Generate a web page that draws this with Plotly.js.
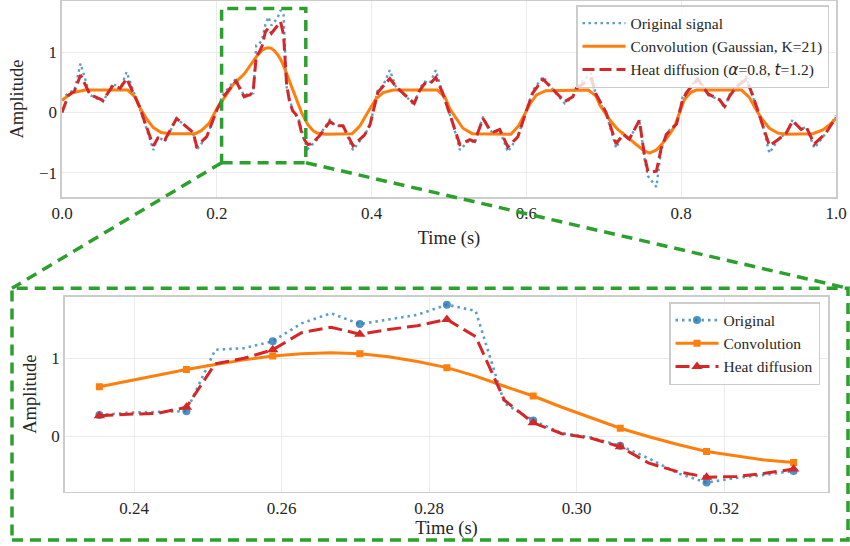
<!DOCTYPE html>
<html><head><meta charset="utf-8">
<script src="https://cdn.plot.ly/plotly-3.0.1.min.js"></script>
<style>html,body{margin:0;padding:0;background:#fff}#chart{width:850px;height:546px}</style>
</head><body><div id="chart"></div>
<script>
// ---- data: top panel, segment before zoom window ----
const t_a   = [0.000,0.008,0.016,0.024,0.036,0.053,0.066,0.075,0.0835,0.1007,0.107,0.118,0.124,0.133,0.148,0.163,0.1695,0.174,0.187,0.200,0.208,0.2247];
const sig_a = [0.20,0.33,0.36,0.81,0.29,0.18,0.48,0.38,0.67,0.07,-0.18,-0.62,-0.40,-0.48,-0.10,-0.26,-0.34,-0.62,-0.40,0.04,0.29,0.56];
const heat_a= [0.00,0.28,0.35,0.62,0.30,0.20,0.45,0.40,0.56,0.08,-0.16,-0.55,-0.42,-0.45,-0.10,-0.25,-0.33,-0.56,-0.40,0.04,0.25,0.52];
// ---- zoom window (samples 60..84 of 256) ----
const t_zoom   = [0.2353,0.2392,0.2431,0.2471,0.2510,0.2549,0.2588,0.2627,0.2667,0.2706,0.2745,0.2784,0.2824,0.2863,0.2902,0.2941,0.2980,0.3020,0.3059,0.3098,0.3137,0.3176,0.3216,0.3255,0.3294];
const sig_zoom = [0.27,0.30,0.31,0.32,1.11,1.13,1.22,1.45,1.58,1.44,1.50,1.56,1.69,1.61,0.42,0.20,0.035,-0.02,-0.125,-0.29,-0.48,-0.60,-0.54,-0.50,-0.45];
const conv_zoom= [0.635,0.71,0.78,0.855,0.92,0.98,1.03,1.06,1.07,1.06,1.02,0.96,0.88,0.77,0.64,0.515,0.37,0.23,0.10,-0.01,-0.11,-0.20,-0.26,-0.31,-0.34];
const heat_zoom= [0.26,0.28,0.29,0.37,0.93,1.00,1.11,1.33,1.40,1.31,1.37,1.42,1.50,1.28,0.46,0.17,0.03,-0.03,-0.14,-0.35,-0.46,-0.53,-0.52,-0.48,-0.425];
// ---- top panel, segment after zoom window ----
const t_b   = [0.333,0.346,0.354,0.363,0.372,0.376,0.391,0.398,0.408,0.415,
               0.4235,0.432,0.4407,0.455,0.462,0.4687,0.475,0.483,0.492,0.505,
               0.514,0.527,0.533,0.544,0.552,0.558,0.5655,0.576,0.589,0.600,
               0.6085,0.6215,0.6365,0.6495,0.660,0.6645,0.684,0.690,0.703,0.716,
               0.725,0.733,0.746,0.753,0.757,0.763,0.768,0.774,0.781,0.794,
               0.802,0.8087,0.8215,0.8345,0.8496,0.856,0.8625,0.871,0.884,0.8926,
               0.9055,0.914,0.925,0.9357,0.944,0.955,0.9615,0.972,0.987,1.000];
const sig_b = [-0.37,-0.12,-0.23,-0.21,-0.48,-0.62,-0.37,-0.21,0.37,0.45,
               0.70,0.40,0.32,0.12,0.40,0.51,0.48,0.70,0.30,-0.18,
               -0.62,-0.45,-0.51,-0.07,-0.29,-0.34,-0.29,-0.65,-0.40,0.04,
               0.37,0.59,0.34,0.15,0.26,0.43,0.65,0.26,-0.01,-0.59,
               -0.34,-0.45,-0.12,-0.79,-1.05,-1.15,-1.23,-0.62,-0.34,-0.18,
               0.26,0.37,0.59,0.29,0.21,0.07,0.29,0.43,0.59,0.26,
               -0.23,-0.67,-0.45,-0.34,-0.12,-0.29,-0.23,-0.59,-0.34,-0.05];
const heat_b= [-0.38,-0.15,-0.22,-0.22,-0.45,-0.55,-0.37,-0.20,0.33,0.44,
               0.56,0.42,0.32,0.15,0.36,0.48,0.47,0.58,0.32,-0.16,
               -0.53,-0.45,-0.48,-0.10,-0.27,-0.32,-0.28,-0.57,-0.40,0.03,
               0.33,0.55,0.36,0.18,0.26,0.40,0.56,0.30,0.00,-0.52,
               -0.36,-0.44,-0.13,-0.75,-0.97,-0.98,-0.97,-0.60,-0.36,-0.19,
               0.22,0.36,0.55,0.31,0.21,0.10,0.27,0.42,0.55,0.28,
               -0.22,-0.55,-0.45,-0.34,-0.14,-0.28,-0.24,-0.52,-0.34,-0.08];
// ---- convolution (smooth) outside zoom window ----
const t_conv_a = [0.000,0.012,0.030,0.085,0.095,0.1007,0.110,0.118,0.128,0.140,0.172,0.180,0.190,0.200,0.210,0.221];
const conv_a   = [0.20,0.32,0.37,0.37,0.25,0.08,-0.12,-0.25,-0.33,-0.35,-0.35,-0.30,-0.18,0.06,0.25,0.46];
const t_conv_b = [0.340,0.375,0.385,0.393,0.400,0.406,0.415,0.428,0.485,0.495,0.501,0.510,0.518,0.530,0.580,0.590,0.598,0.605,0.613,0.625,
                  0.680,0.690,0.695,0.7075,0.718,0.729,0.740,0.7505,0.759,0.768,0.776,0.784,0.7915,0.798,0.804,0.812,0.8195,
                  0.878,0.888,0.897,0.905,0.914,0.925,0.935,0.970,0.983,0.992,1.000];
const conv_b   = [-0.36,-0.35,-0.22,-0.04,0.10,0.23,0.33,0.37,0.37,0.25,0.06,-0.12,-0.26,-0.35,-0.36,-0.22,-0.01,0.15,0.29,0.36,
                  0.37,0.27,0.12,-0.12,-0.28,-0.40,-0.52,-0.62,-0.67,-0.62,-0.51,-0.38,-0.23,0.00,0.21,0.33,0.37,
                  0.37,0.25,0.04,-0.12,-0.26,-0.34,-0.36,-0.35,-0.29,-0.20,-0.10];
const xTicksTop = [0,0.2,0.4,0.6,0.8,1.0];
const xTicksZoom = [0.24,0.26,0.28,0.30,0.32];

const t_top = [...t_a, ...t_zoom, ...t_b];
const sig_top = [...sig_a, ...sig_zoom, ...sig_b];
const heat_top = [...heat_a, ...heat_zoom, ...heat_b];
const t_conv = [...t_conv_a, ...t_zoom, ...t_conv_b];
const conv_top = [...conv_a, ...conv_zoom, ...conv_b];

const FONT = 'Liberation Serif, Times New Roman, serif';
const BLUE = 'rgba(31,119,180,0.72)', ORANGE = '#ff7f0e', RED = '#d62728', GREEN = '#2ca02c';
// markers on every third sample of the zoom window
const mc = (c) => t_zoom.map((_, i) => i % 3 === 0 ? c : 'rgba(0,0,0,0)');

const traces = [
  {x: t_top, y: sig_top, mode: 'lines', name: 'Original signal', line: {color: BLUE, width: 2.4, dash: '2.5px,3.5px'}, xaxis: 'x', yaxis: 'y', legend: 'legend'},
  {x: t_conv, y: conv_top, mode: 'lines', name: 'Convolution (Gaussian, K=21)', line: {color: ORANGE, width: 3}, xaxis: 'x', yaxis: 'y', legend: 'legend'},
  {x: t_top, y: heat_top, mode: 'lines', name: 'Heat diffusion (<span style="font-family:DejaVu Sans"><i>α</i></span>=0.8, <span style="font-family:DejaVu Sans"><i>t</i></span>=1.2)', line: {color: RED, width: 3, dash: '12px,5px'}, xaxis: 'x', yaxis: 'y', legend: 'legend'},
  {x: t_zoom, y: sig_zoom, mode: 'lines+markers', name: 'Original', line: {color: BLUE, width: 2.6, dash: '2.5px,4px'}, marker: {symbol: 'circle', size: 8, color: mc('rgba(31,119,180,0.8)')}, xaxis: 'x2', yaxis: 'y2', legend: 'legend2'},
  {x: t_zoom, y: conv_zoom, mode: 'lines+markers', name: 'Convolution', line: {color: ORANGE, width: 3}, marker: {symbol: 'square', size: 7, color: mc(ORANGE)}, xaxis: 'x2', yaxis: 'y2', legend: 'legend2'},
  {x: t_zoom, y: heat_zoom, mode: 'lines+markers', name: 'Heat diffusion', line: {color: RED, width: 3, dash: '14px,6px'}, marker: {symbol: 'triangle-up', size: 10, color: mc(RED)}, xaxis: 'x2', yaxis: 'y2', legend: 'legend2'}
];

const axBase = {showline: true, mirror: true, linecolor: '#cccccc', linewidth: 1.6, gridcolor: '#ebebeb', gridwidth: 1, zeroline: false, ticks: '', tickfont: {family: FONT, size: 17, color: '#262626'}};
const titleFont = {family: FONT, size: 18.5, color: '#262626'};
const legBase = {bgcolor: 'rgba(255,255,255,0.8)', bordercolor: '#cccccc', borderwidth: 1.5, font: {family: FONT, size: 15.5, color: '#262626'}, xanchor: 'right', yanchor: 'top', itemwidth: 43};

const P = (px, py) => [px / 850, 1 - py / 546];
const dashG = {color: GREEN, width: 3.5, dash: '11px,7px'};
const c1 = P(221.7, 162.7), c2 = P(306, 162.7), c3 = P(12, 288.3), c4 = P(848, 288.3), c5 = P(12, 540), c6 = P(848, 540);

const layout = {
  width: 850, height: 546, margin: {l: 0, r: 0, t: 0, b: 0},
  paper_bgcolor: '#fff', plot_bgcolor: '#fff', showlegend: true,
  xaxis: {...axBase, domain: [62/850, 836/850], range: [0, 1], tickvals: xTicksTop, tickformat: '.1f', anchor: 'y', title: {text: 'Time (s)', font: titleFont, standoff: 9}},
  yaxis: {...axBase, domain: [1-197/546, 1-1/546], range: [-1.397, 1.843], dtick: 1, anchor: 'x', title: {text: 'Amplitude', font: titleFont, standoff: 10}},
  xaxis2: {...axBase, domain: [64.7/850, 828.3/850], range: [0.2306, 0.3341], tickvals: xTicksZoom, tickformat: '.2f', anchor: 'y2', title: {text: 'Time (s)', font: titleFont, standoff: 4}},
  yaxis2: {...axBase, domain: [1-491.7/546, 1-296.7/546], range: [-0.717, 1.793], dtick: 1, anchor: 'x2', title: {text: 'Amplitude', font: titleFont, standoff: 10}},
  legend: {...legBase, x: 829/850, y: 1 - 5/546},
  legend2: {...legBase, x: 820/850, y: 1 - 302/546},
  shapes: [
    {type: 'rect', xref: 'x', yref: 'y', x0: 0.2062, x1: 0.315, y0: -0.83, y1: 1.72, line: dashG, layer: 'above'},
    {type: 'line', xref: 'paper', yref: 'paper', x0: c1[0], y0: c1[1], x1: c3[0], y1: c3[1], line: dashG, layer: 'above'},
    {type: 'line', xref: 'paper', yref: 'paper', x0: c2[0], y0: c2[1], x1: c4[0], y1: c4[1], line: dashG, layer: 'above'},
    {type: 'rect', xref: 'paper', yref: 'paper', x0: c5[0], x1: c6[0], y0: c5[1], y1: c3[1], line: dashG, layer: 'above'}
  ]
};
Plotly.newPlot('chart', traces, layout, {displayModeBar: false, staticPlot: true});
</script></body></html>
